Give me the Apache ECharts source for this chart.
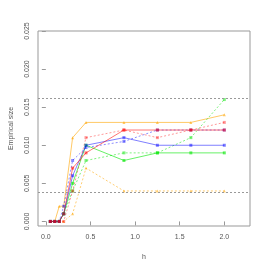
<!DOCTYPE html>
<html><head><meta charset="utf-8">
<script src="https://cdn.jsdelivr.net/npm/echarts@6/dist/echarts.min.js"></script>
<style>html,body{margin:0;padding:0;background:#fff}#c{width:266px;height:266px}</style>
</head><body><div id="c"></div>
<script>
var hValues = [0.05, 0.1, 0.15, 0.2, 0.3, 0.45, 0.875, 1.25, 1.625, 2.0];
var orangeSolid = [0, 0, 0.002, 0.002, 0.011, 0.013, 0.013, 0.013, 0.013, 0.014];
var orangeDashed = [0, 0, 0, 0, 0.001, 0.007, 0.004, 0.004, 0.004, 0.004];
var redSolid = [0, 0, 0, 0.001, 0.007, 0.009, 0.012, 0.012, 0.012, 0.012];
var redDashed = [0, 0, 0, 0, 0.004, 0.011, 0.012, 0.011, 0.012, 0.013];
var blueSolid = [0, 0, 0, 0.001, 0.006, 0.010, 0.011, 0.010, 0.010, 0.010];
var blueDashed = [0, 0, 0, 0.002, 0.008, 0.0097, 0.0105, 0.012, 0.012, 0.012];
var greenSolid = [0, 0, 0, 0.001, 0.005, 0.010, 0.008, 0.009, 0.009, 0.009];
var greenDashed = [0, 0, 0, 0.001, 0.004, 0.008, 0.009, 0.009, 0.011, 0.016];
var refLevels = [0.0162, 0.0038];
var xTicks = [0, 0.5, 1, 1.5, 2];
var yTicks = [0, 0.005, 0.01, 0.015, 0.02, 0.025];

function pairs(ys){ return hValues.map(function(x,i){ return [x, ys[i]]; }); }
function mk(name, ys, color, dashed, symbol){
  return {
    name: name, type: 'line', data: pairs(ys), symbol: symbol, symbolSize: 3,
    lineStyle: {color: color, width: 1, type: dashed ? [2,2] : 'solid'},
    itemStyle: {color: color},
    animation: false, z: 3
  };
}
var series = [
  mk('os', orangeSolid, 'rgba(255,165,0,0.6)', false, 'triangle'),
  mk('od', orangeDashed, 'rgba(255,165,0,0.55)', true, 'triangle'),
  mk('gs', greenSolid, 'rgba(0,230,0,0.6)', false, 'rect'),
  mk('gd', greenDashed, 'rgba(0,230,0,0.5)', true, 'rect'),
  mk('bs', blueSolid, 'rgba(0,0,255,0.5)', false, 'rect'),
  mk('bd', blueDashed, 'rgba(0,0,255,0.45)', true, 'rect'),
  mk('rs', redSolid, 'rgba(255,0,0,0.55)', false, 'rect'),
  mk('rd', redDashed, 'rgba(255,0,0,0.4)', true, 'rect')
];
series[0].markLine = {
  symbol: ['none','none'], silent: true, label: {show: false}, animation: false, precision: 6,
  lineStyle: {color: '#999', type: [2,2], width: 1},
  data: refLevels.map(function(v){ return {yAxis: v}; })
};
var chart = echarts.init(document.getElementById('c'), null, {renderer: 'canvas'});
chart.setOption({
  animation: false,
  grid: {left: 31, top: 31, right: 16, bottom: 40, show: true, borderColor: '#999', borderWidth: 1, backgroundColor: 'transparent'},
  xAxis: {
    type: 'value', min: -0.088, max: 2.288,
    name: 'h', nameLocation: 'middle', nameGap: 28,
    nameTextStyle: {fontSize: 7, color: '#555', fontFamily: 'Liberation Sans'},
    axisLine: {show: false},
    axisTick: {show: true, length: 4, customValues: xTicks, lineStyle: {color: '#999'}},
    axisLabel: {customValues: xTicks, fontSize: 7, color: '#555', margin: 8, fontFamily: 'Liberation Sans',
      formatter: function(v){ return v.toFixed(1); }},
    splitLine: {show: false}
  },
  yAxis: {
    type: 'value', min: -0.0006, max: 0.025,
    name: 'Empirical size', nameLocation: 'middle', nameGap: 23, nameRotate: 90,
    nameTextStyle: {fontSize: 7, color: '#555', fontFamily: 'Liberation Sans'},
    axisLine: {show: false},
    axisTick: {show: true, length: 4, customValues: yTicks, lineStyle: {color: '#999'}},
    axisLabel: {customValues: yTicks, fontSize: 7, color: '#555', margin: 7, rotate: 90, fontFamily: 'Liberation Sans',
      formatter: function(v){ return v.toFixed(3); }},
    splitLine: {show: false}
  },
  series: series
});
</script></body></html>
